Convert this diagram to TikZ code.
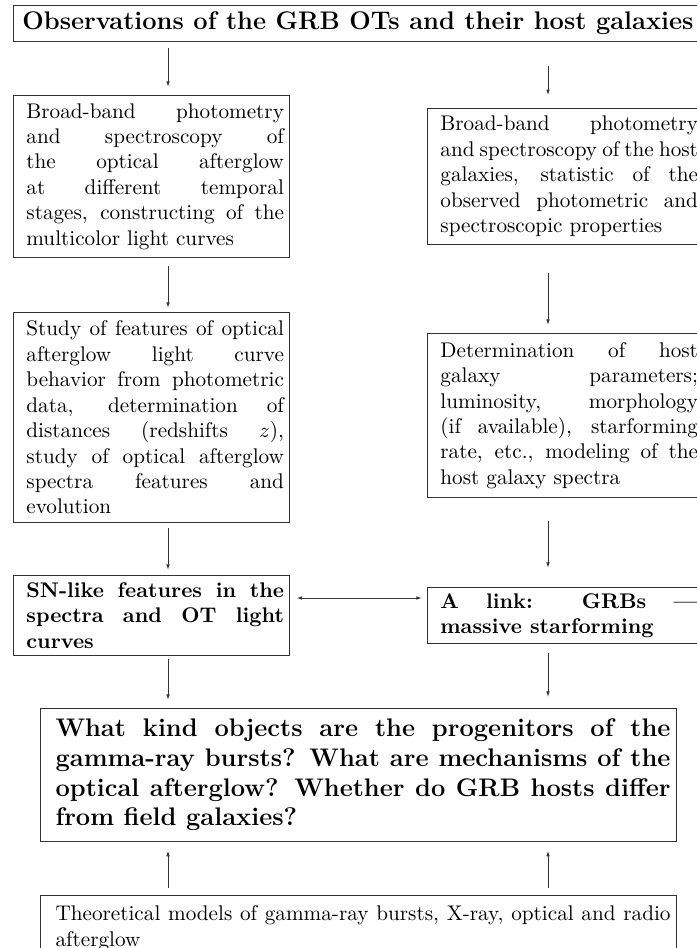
\documentclass[tikz,border=0pt]{standalone}
\usetikzlibrary{arrows.meta}
\newcommand\boxpar[2]{\leftskip=#1\relax\rightskip=#2\relax\parfillskip=0pt plus 1fil\relax\tolerance=10000\relax\emergencystretch=0pt\relax\hyphenpenalty=10000\relax\exhyphenpenalty=10000\relax}
\newcommand\nbox[4]{\parbox{#1}{#2\boxpar{#3}{#4}}}
\begin{document}
\begin{tikzpicture}[x=0.4717pt,y=-0.4717pt,
  frame/.style={draw=black!80,line width=0.45pt,inner sep=0pt,anchor=north west},
  arr/.style={draw=black!80,line width=0.45pt,-{Latex[length=2.6pt,width=1.7pt]}},
  darr/.style={draw=black!80,line width=0.45pt,{Latex[length=2.6pt,width=1.7pt]}-{Latex[length=2.6pt,width=1.7pt]}},
]
\useasboundingbox (0,0) rectangle (697,948);
\clip (0,0) rectangle (697,948);

\node[frame,minimum width=325pt,minimum height=17pt,font=\large\bfseries] (title) at (13,5)
  {Observations of the GRB OTs and their host galaxies};

\node[frame,minimum height=76.4pt] (l1) at (13,95)
  {\parbox{130pt}{\boxpar{6.1pt}{2.4pt}Broad-band photometry\linebreak and spectroscopy of\linebreak the optical afterglow\linebreak at different temporal\linebreak stages, constructing of the\linebreak multicolor light curves\par}};

\node[frame,minimum height=99.1pt] (l2) at (13,312)
  {\parbox{130pt}{\boxpar{6.1pt}{2.4pt}Study of features of optical\linebreak afterglow light curve\linebreak behavior from photometric\linebreak data, determination of\linebreak distances (redshifts $z$),\linebreak study of optical afterglow\linebreak spectra features and\linebreak evolution\par}};

\node[frame,minimum height=37.7pt] (sn) at (13,575)
  {\parbox{130pt}{\bfseries\boxpar{6.1pt}{2.4pt}SN-like features in the\linebreak spectra and OT light\linebreak curves\par}};

\node[frame,minimum height=64.2pt] (r1) at (427,108)
  {\parbox{130pt}{\boxpar{6.1pt}{2.4pt}Broad-band photometry\linebreak and spectroscopy of the host\linebreak galaxies, statistic of the\linebreak observed photometric and\linebreak spectroscopic properties\par}};

\node[frame,minimum height=77.4pt] (r2) at (427,333)
  {\parbox{130pt}{\boxpar{6.1pt}{2.4pt}Determination of host\linebreak galaxy parameters;\linebreak luminosity, morphology\linebreak (if available), starforming\linebreak rate, etc., modeling of the\linebreak host galaxy spectra\par}};

\node[frame,minimum height=26.4pt] (link) at (427,587)
  {\parbox{130pt}{\bfseries\boxpar{6.1pt}{2.4pt}A link: GRBs ---\linebreak massive starforming\par}};

\node[frame,minimum height=62.7pt] (big) at (40,708)
  {\parbox{300pt}{\large\bfseries\boxpar{7.1pt}{2.8pt}What kind objects are the progenitors of the\linebreak gamma-ray bursts? What are mechanisms of the\linebreak optical afterglow? Whether do GRB hosts differ\linebreak from field galaxies?\par}};

\node[frame,minimum height=30.7pt] (bot) at (40,895)
  {\parbox{300pt}{\boxpar{7.1pt}{2.8pt}Theoretical models of gamma-ray bursts, X-ray, optical and radio\linebreak afterglow\par}};

\coordinate (lx) at (168,0);
\coordinate (rx) at (548,0);
\coordinate (dy) at (0,598);

\draw[arr,shorten <=2.8pt,shorten >=3.8pt] (title.south -| lx) -- (l1.north -| lx);
\draw[arr,shorten <=11.3pt,shorten >=6.1pt] (title.south -| rx) -- (r1.north -| rx);
\draw[arr,shorten <=3.8pt,shorten >=1.9pt] (l1.south -| lx) -- (l2.north -| lx);
\draw[arr,shorten <=13.2pt,shorten >=3.8pt] (r1.south -| rx) -- (r2.north -| rx);
\draw[arr,shorten <=2.4pt,shorten >=2.4pt] (l2.south -| lx) -- (sn.north -| lx);
\draw[arr,shorten <=10.8pt,shorten >=9pt] (r2.south -| rx) -- (link.north -| rx);
\draw[arr,shorten <=1.4pt,shorten >=3.8pt] (sn.south -| lx) -- (big.north -| lx);
\draw[arr,shorten <=4.2pt,shorten >=5.2pt] (link.south -| rx) -- (big.north -| rx);
\draw[arr,shorten <=3.3pt,shorten >=4.2pt] (bot.north -| lx) -- (big.south -| lx);
\draw[arr,shorten <=3.3pt,shorten >=4.2pt] (bot.north -| rx) -- (big.south -| rx);
\draw[darr,shorten <=3.3pt,shorten >=2.4pt] (sn.east |- dy) -- (link.west |- dy);
\end{tikzpicture}
\end{document}
